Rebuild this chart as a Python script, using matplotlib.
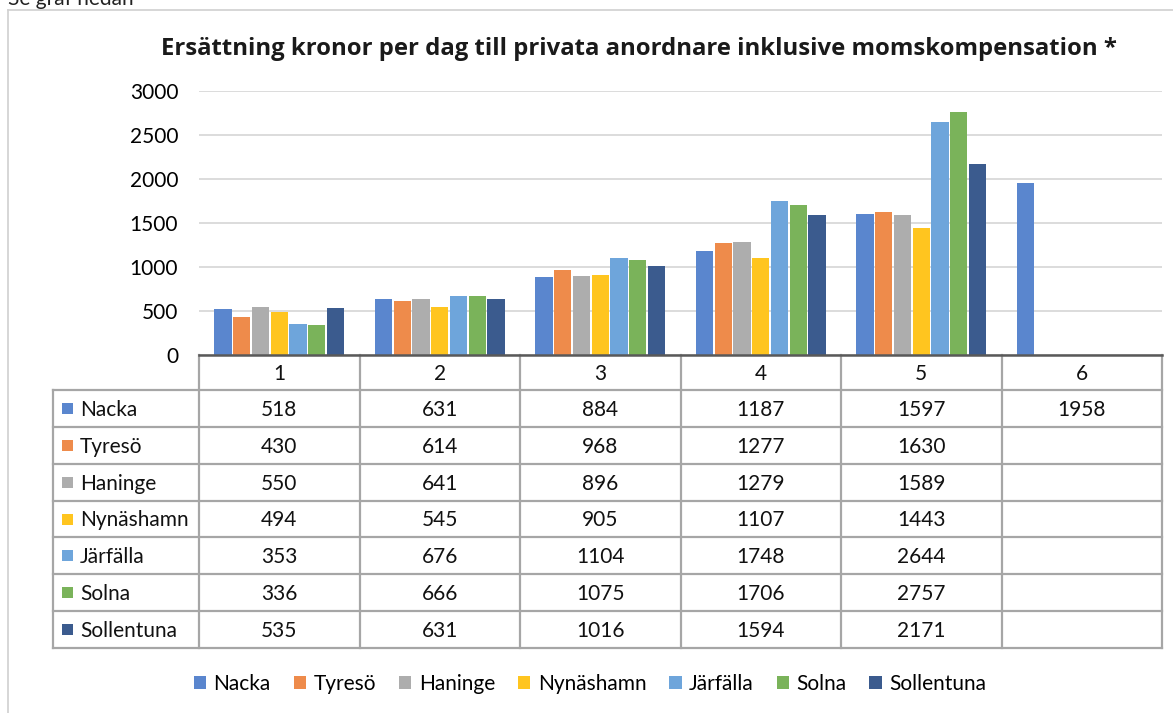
import numpy as np
import matplotlib
matplotlib.use("Agg")
import matplotlib.pyplot as plt
from matplotlib.patches import Patch, Rectangle

plt.rcParams['font.family'] = ['Lato', 'DejaVu Sans']

# ---------------- data ----------------
title = "Ersättning kronor per dag till privata anordnare inklusive momskompensation *"
categories = ["1", "2", "3", "4", "5", "6"]
series_names = ["Nacka", "Tyresö", "Haninge", "Nynäshamn", "Järfälla", "Solna", "Sollentuna"]
nacka = [518, 631, 884, 1187, 1597, 1958]
tyreso = [430, 614, 968, 1277, 1630, np.nan]
haninge = [550, 641, 896, 1279, 1589, np.nan]
nynashamn = [494, 545, 905, 1107, 1443, np.nan]
jarfalla = [353, 676, 1104, 1748, 2644, np.nan]
solna = [336, 666, 1075, 1706, 2757, np.nan]
sollentuna = [535, 631, 1016, 1594, 2171, np.nan]
series_values = [nacka, tyreso, haninge, nynashamn, jarfalla, solna, sollentuna]
yticks = [0, 500, 1000, 1500, 2000, 2500, 3000]

colors = ["#5A86CE", "#EE8B4B", "#ADADAD", "#FFC51F", "#6EA5DB", "#7AB35A", "#3B5B8E"]

# ---------------- layout ----------------
W, H = 1173, 713
plot_l, plot_r = 199, 1162
plot_t, plot_b = 91, 355
tab_l = 53
row_top = 390
tab_bottom = 648
FS = 15

fig = plt.figure(figsize=(W / 100, H / 100), dpi=100)

ax = fig.add_axes([plot_l / W, 1 - plot_b / H, (plot_r - plot_l) / W, (plot_b - plot_t) / H])
x = np.arange(len(categories))
pitch = 0.117
bw = 0.108
for i, (name, vals) in enumerate(zip(series_names, series_values)):
    ax.bar(x + (i - 3) * pitch, vals, width=bw, color=colors[i], zorder=2, label=name)
ax.set_xlim(-0.5, len(categories) - 0.5)
ax.set_ylim(0, 3000)
ax.set_yticks(yticks)
ax.set_yticklabels([str(v) for v in yticks], fontsize=FS)
ax.set_xticks([])
ax.grid(axis='y', color='#D9D9D9', linewidth=1.3, zorder=0)
for s in ax.spines.values():
    s.set_visible(False)
ax.tick_params(axis='y', length=0, pad=15)

# overlay axes in pixel coordinates for table and decorations
tax = fig.add_axes([0, 0, 1, 1])
tax.set_xlim(0, W)
tax.set_ylim(H, 0)
tax.axis('off')

# chart border
tax.plot([8, W], [10, 10], color='#D0D0D0', lw=1.2)
tax.plot([8, 8], [10, H], color='#D0D0D0', lw=1.2)
tax.text(8, 5, "Se graf nedan", fontsize=FS, ha='left', va='baseline', color='#222222')

# title
tax.text(639, 55, title, fontsize=17.2, fontweight='bold', ha='center', va='baseline',
         color='#1a1a1a', family=['Open Sans', 'DejaVu Sans'])

# table
ncat = len(categories)
col_edges = np.linspace(plot_l, plot_r, ncat + 1)
col_centers = (col_edges[:-1] + col_edges[1:]) / 2
nrows = len(series_names)
row_edges = np.linspace(row_top, tab_bottom, nrows + 1)
row_centers = (row_edges[:-1] + row_edges[1:]) / 2
gcol = '#A6A6A6'
lw = 1.6
for ye in row_edges:
    tax.plot([tab_l, plot_r], [ye, ye], color=gcol, lw=lw, solid_capstyle='projecting')
for xe in col_edges:
    tax.plot([xe, xe], [plot_b, tab_bottom], color=gcol, lw=lw, solid_capstyle='projecting')
tax.plot([tab_l, tab_l], [row_top, tab_bottom], color=gcol, lw=lw, solid_capstyle='projecting')
tax.plot([plot_l, plot_r], [plot_b, plot_b], color='#595959', lw=1.8, zorder=5)

for c, lab in zip(col_centers, categories):
    tax.text(c, (plot_b + row_top) / 2 + 8, lab, fontsize=FS, ha='center', va='baseline', color='#111111')

for r, (name, vals) in enumerate(zip(series_names, series_values)):
    yc = row_centers[r]
    tax.add_patch(Rectangle((62, yc - 5.5), 11, 11, color=colors[r], lw=0))
    tax.text(80, yc + 7.5, name, fontsize=FS, ha='left', va='baseline', color='#111111')
    for c, v in zip(col_centers, vals):
        if not np.isnan(v):
            tax.text(c, yc + 7.5, f"{int(v)}", fontsize=FS, ha='center', va='baseline', color='#111111')

# legend
handles = [Patch(facecolor=c, edgecolor='none') for c in colors]
leg = fig.legend(handles, series_names, loc='center', bbox_to_anchor=(590 / W, 1 - 684 / H),
                 ncol=7, frameon=False, fontsize=FS, handlelength=0.6, handleheight=0.6,
                 handletextpad=0.35, columnspacing=1.1, borderpad=0)

fig.savefig("out.png", dpi=100)
